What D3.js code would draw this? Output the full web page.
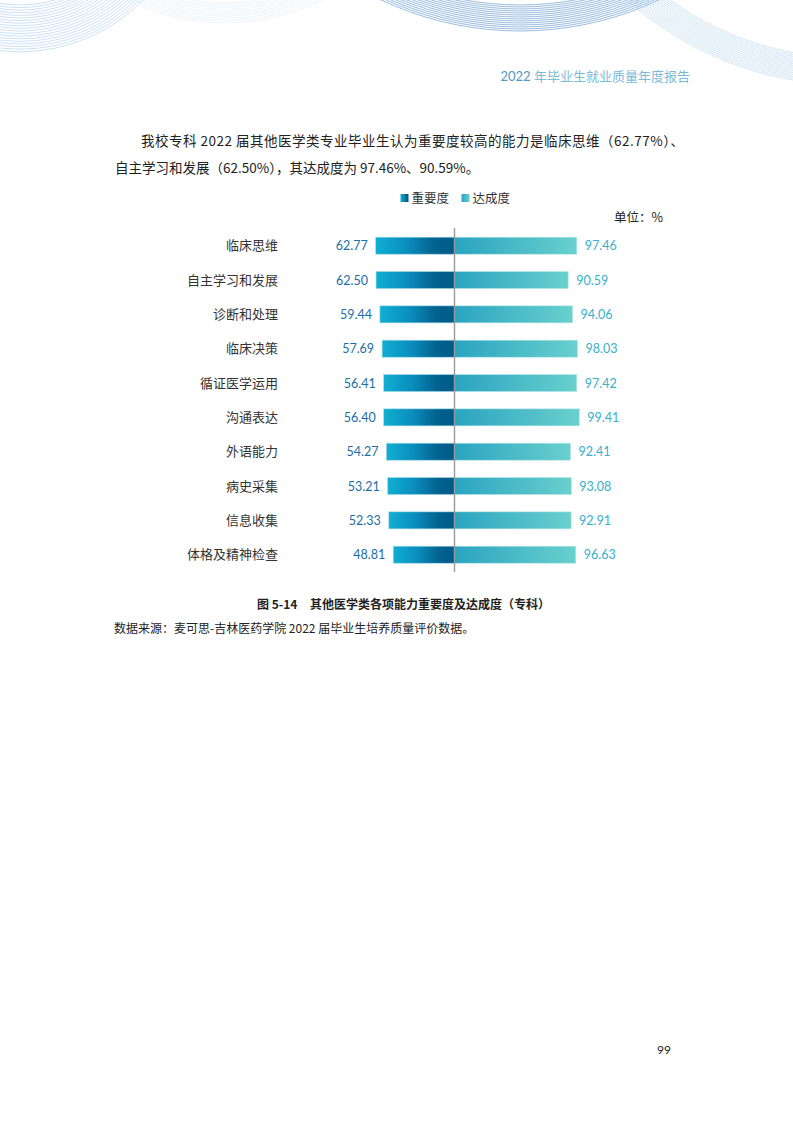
<!DOCTYPE html>
<html>
<head>
<meta charset="utf-8">
<script src="https://cdn.jsdelivr.net/npm/d3@7"></script>
<style>
  html, body { margin: 0; padding: 0; background: #fff; }
  svg { display: block; }
</style>
</head>
<body>
<div id="page"></div>
<script>
// Page size
const pageWidth = 793;
const pageHeight = 1122;

// Chart data
const categories = ["临床思维", "自主学习和发展", "诊断和处理", "临床决策", "循证医学运用",
  "沟通表达", "外语能力", "病史采集", "信息收集", "体格及精神检查"];
const importance = [62.77, 62.50, 59.44, 57.69, 56.41, 56.40, 54.27, 53.21, 52.33, 48.81];
const achievement = [97.46, 90.59, 94.06, 98.03, 97.42, 99.41, 92.41, 93.08, 92.91, 96.63];
const seriesNames = ["重要度", "达成度"];

const cjk = "'Noto Sans CJK SC', 'Noto Sans', sans-serif";
const num = "Lato, 'Open Sans', sans-serif";

const svg = d3.select("#page")
  .append("svg")
  .attr("width", pageWidth)
  .attr("height", pageHeight)
  .attr("viewBox", [0, 0, pageWidth, pageHeight]);

// Gradients for bars
const defs = svg.append("defs");
const gradLeft = defs.append("linearGradient").attr("id", "gradLeft");
gradLeft.append("stop").attr("offset", "0%").attr("stop-color", "#10afd2");
gradLeft.append("stop").attr("offset", "40%").attr("stop-color", "#0a8dbd");
gradLeft.append("stop").attr("offset", "75%").attr("stop-color", "#03628f");
gradLeft.append("stop").attr("offset", "100%").attr("stop-color", "#005a89");
const gradRight = defs.append("linearGradient").attr("id", "gradRight");
gradRight.append("stop").attr("offset", "0%").attr("stop-color", "#2aa4c1");
gradRight.append("stop").attr("offset", "100%").attr("stop-color", "#69d0cd");

// Decorative arcs at the top of the page
const deco = svg.append("g").attr("fill", "none");
const arcGroups = [
  { cx: 20, cy: -120, r0: 125, r1: 173, step: 2.6, color: "#a9cdef", w: 0.6 },
  { cx: 225, cy: -200, r0: 203, r1: 223, step: 2.2, color: "#e1edf8", w: 0.6 },
  { cx: 520, cy: -295, r0: 300, r1: 327, step: 2, color: "#6f9fd1", w: 0.7 },
  { cx: 850, cy: -250, r0: 308, r1: 336, step: 1.8, color: "#b3d5f0", w: 0.6 }
];
arcGroups.forEach(g => {
  deco.selectAll(null)
    .data(d3.range(g.r0, g.r1 + 0.01, g.step))
    .join("circle")
    .attr("cx", g.cx)
    .attr("cy", g.cy)
    .attr("r", d => d)
    .attr("stroke", g.color)
    .attr("stroke-width", g.w);
});

// Running header
const header = svg.append("text")
  .attr("x", 690)
  .attr("y", 81)
  .attr("text-anchor", "end")
  .style("font-family", cjk)
  .style("font-size", "13px");
header.append("tspan").attr("fill", "#4f98c0").style("font-family", num).text("2022 ");
header.append("tspan").attr("fill", "#7dbad6").text("年毕业生就业质量年度报告");

// Body text
svg.append("text")
  .attr("x", 141)
  .attr("y", 146)
  .attr("textLength", 543)
  .attr("lengthAdjust", "spacing")
  .attr("fill", "#222")
  .style("font-family", cjk)
  .style("font-size", "13.5px")
  .text("我校专科 2022 届其他医学类专业毕业生认为重要度较高的能力是临床思维（62.77%）、");
svg.append("text")
  .attr("x", 115)
  .attr("y", 173)
  .attr("fill", "#222")
  .style("font-family", cjk)
  .style("font-size", "13.5px")
  .text("自主学习和发展（62.50%），其达成度为 97.46%、90.59%。");

// Chart scales
const centerX = 454.5;
const x = d3.scaleLinear().domain([0, 100]).range([0, 125.5]);
const y = d3.scalePoint().domain(categories).range([245.7, 554.7]);
const barH = 17;

const rows = categories.map((c, i) => ({ cat: c, imp: importance[i], ach: achievement[i] }));

const chart = svg.append("g");

// Importance bars (to the left)
chart.selectAll("rect.imp")
  .data(rows)
  .join("rect")
  .attr("class", "imp")
  .attr("x", d => centerX - x(d.imp))
  .attr("y", d => y(d.cat) - barH / 2)
  .attr("width", d => x(d.imp))
  .attr("height", barH)
  .attr("fill", "url(#gradLeft)")
  .attr("stroke", "#9fd8e6")
  .attr("stroke-width", 0.6);

// Achievement bars (to the right)
chart.selectAll("rect.ach")
  .data(rows)
  .join("rect")
  .attr("class", "ach")
  .attr("x", centerX)
  .attr("y", d => y(d.cat) - barH / 2)
  .attr("width", d => x(d.ach))
  .attr("height", barH)
  .attr("fill", "url(#gradRight)")
  .attr("stroke", "#b5e6ea")
  .attr("stroke-width", 0.6);

// Center axis
chart.append("line")
  .attr("x1", centerX)
  .attr("x2", centerX)
  .attr("y1", 228)
  .attr("y2", 572)
  .attr("stroke", "#9a9a9a")
  .attr("stroke-width", 1.4);

// Category labels
chart.selectAll("text.cat")
  .data(rows)
  .join("text")
  .attr("class", "cat")
  .attr("x", 278)
  .attr("y", d => y(d.cat))
  .attr("dy", "0.36em")
  .attr("text-anchor", "end")
  .attr("fill", "#333")
  .style("font-family", cjk)
  .style("font-size", "13px")
  .text(d => d.cat);

// Value labels
chart.selectAll("text.impv")
  .data(rows)
  .join("text")
  .attr("class", "impv")
  .attr("x", d => centerX - x(d.imp) - 8)
  .attr("y", d => y(d.cat))
  .attr("dy", "0.36em")
  .attr("text-anchor", "end")
  .attr("fill", "#1c6ea5")
  .style("font-family", num)
  .style("font-size", "12.5px")
  .text(d => d.imp.toFixed(2));

chart.selectAll("text.achv")
  .data(rows)
  .join("text")
  .attr("class", "achv")
  .attr("x", d => centerX + x(d.ach) + 8)
  .attr("y", d => y(d.cat))
  .attr("dy", "0.36em")
  .attr("fill", "#38afcd")
  .style("font-family", num)
  .style("font-size", "12.5px")
  .text(d => d.ach.toFixed(2));

// Legend
const legend = svg.append("g");
const legendX = [400.5, 461.5];
seriesNames.forEach((name, i) => {
  legend.append("rect")
    .attr("x", legendX[i])
    .attr("y", 194)
    .attr("width", 8)
    .attr("height", 8)
    .attr("fill", i === 0 ? "url(#gradLeft)" : "url(#gradRight)");
  legend.append("text")
    .attr("x", legendX[i] + 11)
    .attr("y", 198)
    .attr("dy", "0.36em")
    .attr("fill", "#333")
    .style("font-family", cjk)
    .style("font-size", "12.5px")
    .text(name);
});

// Unit label
svg.append("text")
  .attr("x", 663)
  .attr("y", 217)
  .attr("dy", "0.36em")
  .attr("text-anchor", "end")
  .attr("fill", "#222")
  .style("font-family", cjk)
  .style("font-size", "12.5px")
  .text("单位：%");

// Caption
svg.append("text")
  .attr("x", 257)
  .attr("y", 609)
  .attr("fill", "#222")
  .style("font-family", cjk)
  .style("font-size", "12px")
  .style("font-weight", "bold")
  .text("图 5-14");
svg.append("text")
  .attr("x", 310)
  .attr("y", 609)
  .attr("fill", "#222")
  .style("font-family", cjk)
  .style("font-size", "12px")
  .style("font-weight", "bold")
  .text("其他医学类各项能力重要度及达成度（专科）");

// Source note
svg.append("text")
  .attr("x", 114)
  .attr("y", 633)
  .attr("fill", "#222")
  .style("font-family", cjk)
  .style("font-size", "12px")
  .text("数据来源：麦可思-吉林医药学院 2022 届毕业生培养质量评价数据。");

// Page number
svg.append("text")
  .attr("x", 657)
  .attr("y", 1054)
  .attr("fill", "#222")
  .style("font-family", num)
  .style("font-size", "12px")
  .text("99");
</script>
</body>
</html>
